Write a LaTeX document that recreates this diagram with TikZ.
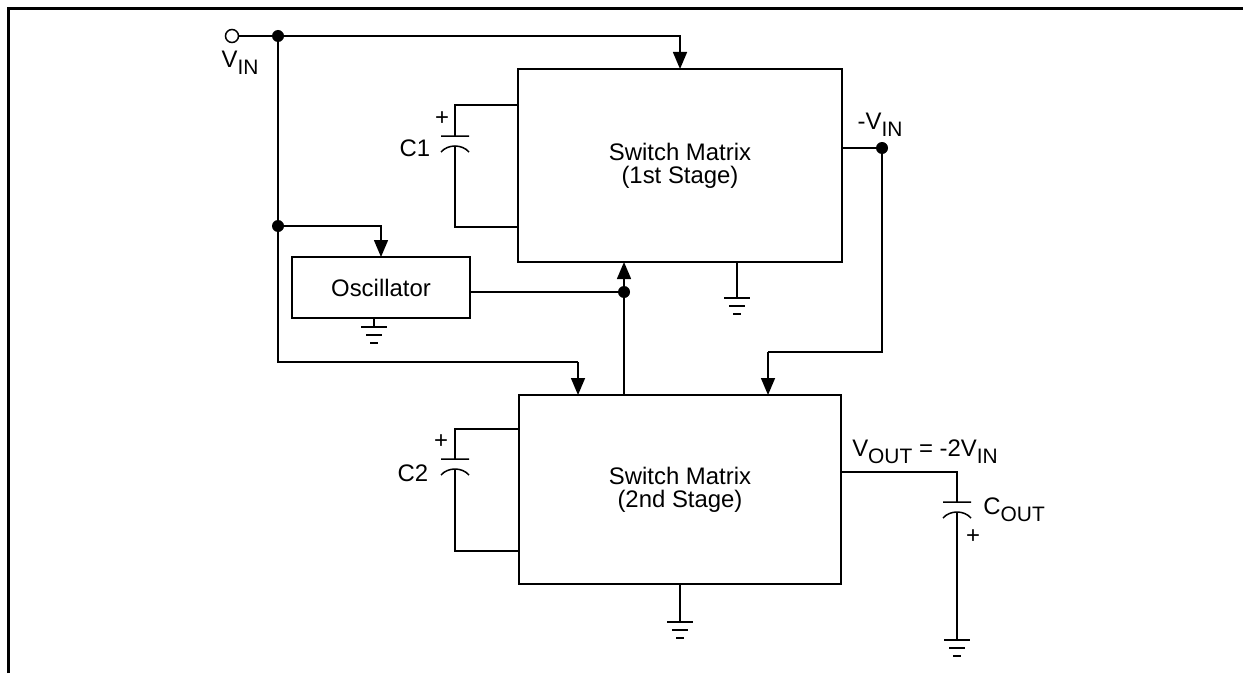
\documentclass[tikz,border=0pt]{standalone}
\usepackage{fontspec}
\setmainfont{Liberation Sans}
\usetikzlibrary{arrows.meta}

% индекс внизу
\newcommand{\low}[1]{\raisebox{-0.55ex}{\fontsize{10.5}{11}\selectfont #1}}

\tikzset{
    wire/.style = { line width = 0.75bp },
    arr/.style = { wire, -{Triangle[length=8.5bp,width=7bp]} },
    block/.style = { draw, wire, inner sep = 0, outer sep = 0, align = center,
                     font = \fontsize{12}{11.5}\selectfont },
    lbl/.style = { inner sep = 0, font = \fontsize{12}{14}\selectfont },
    dot/.style = { circle, fill, inner sep = 0, minimum size = 6bp },
    gnd/.pic = { \draw [wire] ( -13, 0 ) -- ( 13, 0 ) ( -8, 8 ) -- ( 8, 8 ) ( -4, 16 ) -- ( 4, 16 ); },
    capac/.pic = { \draw [wire] ( -14, 0 ) -- ( 14, 0 ) ( -14, 16 ) .. controls ( -7, 8 ) and ( 7, 8 ) .. ( 14, 16 ); }
}

\begin{document}
\begin{tikzpicture}[x=0.5bp, y=-0.5bp]
        \useasboundingbox ( 0, 0 ) rectangle ( 1243, 673 );

        % рамка
        \draw [line width = 1.5bp] ( 8, 673 ) -- ( 8, 9 ) -- ( 1243, 9 );

        % блоки
        \node [block, minimum width = 162bp, minimum height = 96.5bp] (sm1) at ( 680, 165.5 ) {Switch Matrix\\(1st Stage)};
        \node [block, minimum width = 161bp, minimum height = 94.5bp] (sm2) at ( 680, 489.5 ) {Switch Matrix\\(2nd Stage)};
        \node [block, minimum width = 89bp, minimum height = 30.5bp, font = \fontsize{12}{14}\selectfont] (osc) at ( 381, 287.5 ) {Oscillator};

        % вход V_IN
        \node [circle, draw, wire, fill = white, inner sep = 0, minimum size = 6.5bp] (vin) at ( 232, 36 ) {};
        \node [lbl] (vinlbl) at ( 240, 63 ) {V\low{IN}};
        \node [dot] (j1) at ( 278, 36 ) {};
        \node [dot] (j2) at ( 278, 226 ) {};
        \coordinate (a2) at ( 578, 362 );
        \draw [wire] (vin) -- (j1);
        \draw [arr] (j1) -| (sm1.north);
        \draw [arr] (j2) -| (osc.north);
        \draw [wire] (j1) |- (a2);
        \draw [arr] (a2) -- (a2 |- sm2.north);

        % выход генератора
        \node [dot] (j3) at ( 624, 292 ) {};
        \draw [wire] (osc.east |- j3) -- (j3);
        \draw [arr] (sm2.north -| j3) -- (sm1.south -| j3);
        \draw [wire] ( 374, 318 ) -- ( 374, 327 );
        \pic at ( 374, 327 ) {gnd};

        % C1
        \pic (c1) at ( 455, 136 ) {capac};
        \draw [wire] (sm1.west |- 0, 105) -| ( 455, 136 );
        \draw [wire] ( 455, 146 ) |- (sm1.west |- 0, 227);
        \node [lbl] (c1p) at ( 442, 119 ) {+};
        \node [lbl] (c1lbl) at ( 415, 148 ) {C1};

        % -V_IN
        \node [dot] (j4) at ( 882, 148 ) {};
        \node [lbl] (vnlbl) at ( 880, 125 ) {-V\low{IN}};
        \coordinate (a3) at ( 768, 352 );
        \draw [wire] (sm1.east |- j4) -- (j4);
        \draw [wire] (j4) |- (a3);
        \draw [arr] (a3) -- (a3 |- sm2.north);

        % земля первого каскада
        \draw [wire] ( 737, 262 ) -- ( 737, 298 );
        \pic at ( 737, 298 ) {gnd};

        % C2
        \pic (c2) at ( 455, 459 ) {capac};
        \draw [wire] (sm2.west |- 0, 429) -| ( 455, 459 );
        \draw [wire] ( 455, 469 ) |- (sm2.west |- 0, 551);
        \node [lbl] (c2p) at ( 441, 442 ) {+};
        \node [lbl] (c2lbl) at ( 413, 473 ) {C2};

        % земля второго каскада
        \draw [wire] ( 680, 584 ) -- ( 680, 622 );
        \pic at ( 680, 622 ) {gnd};

        % выход и C_OUT
        \node [lbl] (voutlbl) at ( 925, 452 ) {V\low{OUT} = -2V\low{IN}};
        \draw [wire] (sm2.east |- 0, 472) -| ( 957, 502 );
        \pic (cout) at ( 957, 502 ) {capac};
        \draw [wire] ( 957, 512 ) -- ( 957, 640 );
        \pic at ( 957, 640 ) {gnd};
        \node [lbl, anchor = west] (coutlbl) at ( 983, 510 ) {C\low{OUT}};
        \node [lbl] (coutp) at ( 973, 537 ) {+};
\end{tikzpicture}
\end{document}
